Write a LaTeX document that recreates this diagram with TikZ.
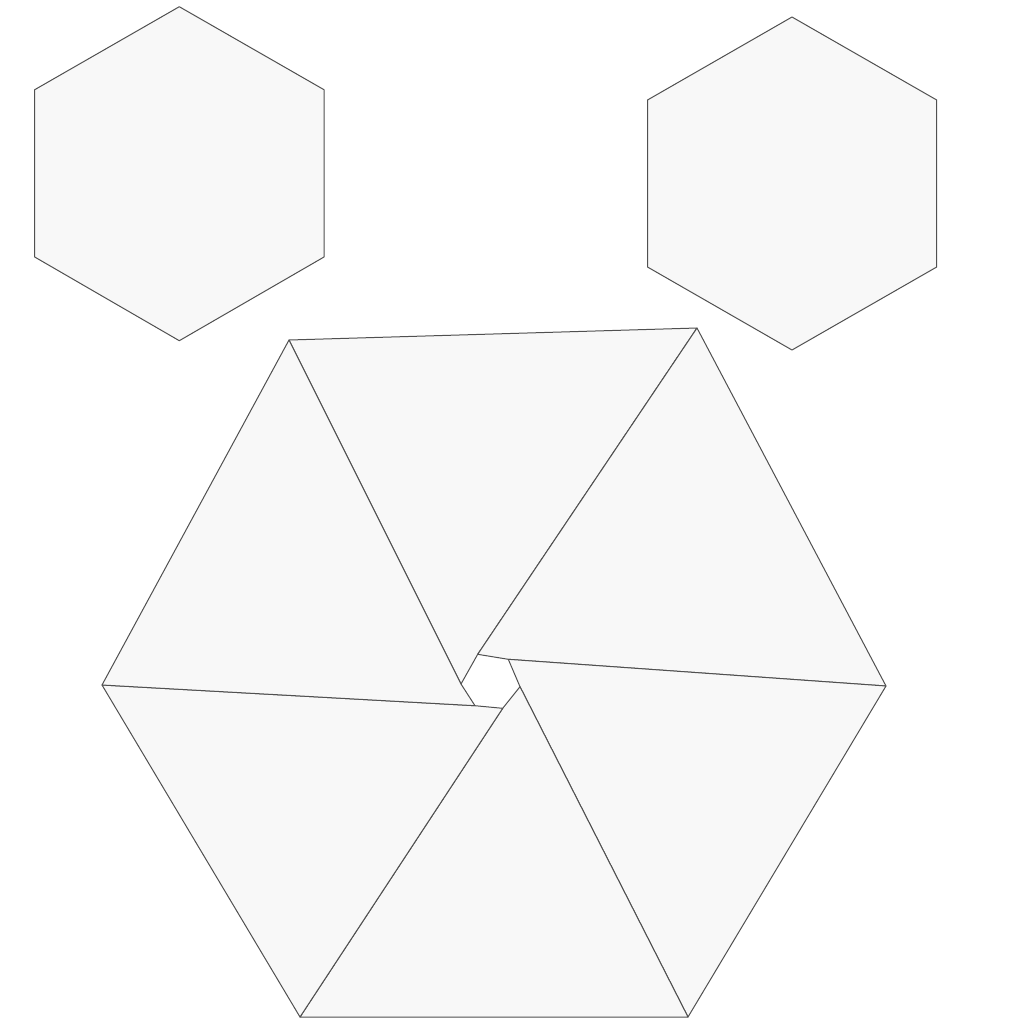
\documentclass[tikz,border=0pt]{standalone}
\usepackage{tikz}
\definecolor{paper}{HTML}{F8F8F8}
\definecolor{edge}{HTML}{505050}
\begin{document}
\begin{tikzpicture}[x=0.5pt, y=-0.5pt]
        \tikzstyle{piece}=[draw=edge, fill=paper, line width=0.5pt, line join=round]
        \useasboundingbox (0,0) rectangle (1024,1024);

        % Hexagonos sueltos
        \draw[piece] (179.3,6.7) -- (34.7,89.7) -- (34.7,257) -- (179.3,340.7) -- (324,257) -- (324,89.7) -- cycle;
        \draw[piece] (792,17) -- (647.5,100) -- (647.5,267) -- (792,350) -- (936.7,267) -- (936.7,100) -- cycle;

        % Vertices exteriores del molinete
        \coordinate (o1) at (289,340);
        \coordinate (o2) at (697,328);
        \coordinate (o3) at (886,686);
        \coordinate (o4) at (688,1017);
        \coordinate (o5) at (300,1017);
        \coordinate (o6) at (102,685);
        % Vertices del hueco central
        \coordinate (h1) at (461,684);
        \coordinate (h2) at (477.7,654.3);
        \coordinate (h3) at (508.3,659.3);
        \coordinate (h4) at (520,686.7);
        \coordinate (h5) at (502.7,708.3);
        \coordinate (h6) at (475,705.7);

        % Piezas
        \draw[piece] (o1) -- (o2) -- (h2) -- (h1) -- cycle;
        \draw[piece] (o2) -- (o3) -- (h3) -- (h2) -- cycle;
        \draw[piece] (o3) -- (o4) -- (h4) -- (h3) -- cycle;
        \draw[piece] (o4) -- (o5) -- (h5) -- (h4) -- cycle;
        \draw[piece] (o5) -- (o6) -- (h6) -- (h5) -- cycle;
        \draw[piece] (o6) -- (o1) -- (h1) -- (h6) -- cycle;
    \end{tikzpicture}
\end{document}
